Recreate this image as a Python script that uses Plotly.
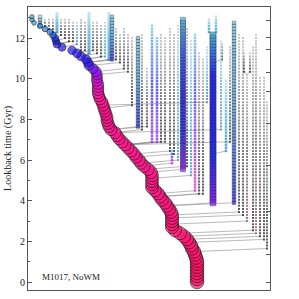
import plotly.graph_objects as go

# ---------------- data ----------------
# snapshot lookback times (Gyr)
snap_t = [0.00, 0.15, 0.30, 0.45, 0.60, 0.75, 0.90, 1.05, 1.20, 1.35,
          1.50, 1.65, 1.80, 1.95, 2.10, 2.25, 2.40, 2.55, 2.70, 2.85,
          3.00, 3.15, 3.30, 3.45, 3.60, 3.75, 3.90, 4.05, 4.20, 4.35,
          4.50, 4.65, 4.80, 4.95, 5.10, 5.25, 5.40, 5.55, 5.70, 5.85,
          6.00, 6.15, 6.30, 6.45, 6.60, 6.75, 6.90, 7.05, 7.20, 7.35,
          7.50, 7.65, 7.80, 7.95, 8.10, 8.25, 8.40, 8.55, 8.70, 8.85,
          9.00, 9.15, 9.30, 9.45, 9.60, 9.75, 9.90, 10.05, 10.20, 10.35,
          10.50, 10.65, 10.80, 10.95, 11.10, 11.25, 11.40, 11.55, 11.70, 11.85,
          12.00, 12.15, 12.30, 12.45, 12.60, 12.75, 12.90, 13.05, 13.20]

# main progenitor branch: layout position and log mass per snapshot
main_x = [197, 197, 197, 197, 197, 197, 197, 197, 196, 195,
          194, 192, 191, 189, 187, 184, 180, 175, 172, 172,
          172, 172, 172, 171, 169, 167, 165, 162, 160, 158,
          155, 152, 152, 152, 152, 152, 151, 148, 144, 141,
          139, 136, 134, 131, 128, 125, 122, 119, 117, 115,
          111, 109, 108, 107, 107, 106, 105, 104, 103, 102,
          100, 99, 98, 98, 98, 98, 97, 97, 97, 96,
          93, 89, 88, 86, 81, 77, 72, 62, 57, 56,
          55, 53, 50, 45, 40, 34, 32, 32]
main_logm = [12.00, 12.00, 11.99, 11.99, 11.98, 11.98, 11.97, 11.96, 11.95, 11.95,
             11.94, 11.93, 11.92, 11.91, 11.90, 11.89, 11.88, 11.87, 11.86, 11.85,
             11.85, 11.84, 11.83, 11.82, 11.81, 11.80, 11.79, 11.78, 11.77, 11.76,
             11.75, 11.74, 11.73, 11.72, 11.71, 11.70, 11.69, 11.68, 11.67, 11.66,
             11.65, 11.64, 11.63, 11.62, 11.61, 11.60, 11.59, 11.57, 11.56, 11.55,
             11.54, 11.53, 11.52, 11.51, 11.50, 11.49, 11.48, 11.47, 11.45, 11.43,
             11.40, 11.37, 11.33, 11.29, 11.24, 11.19, 11.13, 11.07, 11.00, 10.93,
             10.85, 10.75, 10.65, 10.58, 10.50, 10.42, 10.33, 10.22, 10.10, 10.00,
             9.90, 9.75, 9.60, 9.45, 9.30, 9.15, 9.05, 9.00]

# side branches: position, first / last lookback time, colour class, dot size, merges into (-1 = main)
br_x    = [40, 45, 49, 53, 57, 61, 65, 69, 73, 77,
           81, 85, 89, 93, 97, 101, 105, 109, 112, 116,
           120, 124, 128, 132, 138, 142, 147, 152, 157, 161,
           165, 170, 174, 178, 183, 187, 191, 195, 199, 203,
           213, 209, 216, 222, 226, 221, 230, 234, 239, 243,
           247, 244, 250, 253, 256, 260, 264, 267, 207, 172]
br_top  = [13.00, 12.95, 12.95, 12.90, 13.15, 12.95, 12.90, 12.85, 12.80, 12.80,
           12.95, 12.80, 13.15, 12.80, 12.70, 12.60, 12.75, 13.15, 13.05, 12.40,
           12.10, 12.50, 12.10, 12.00, 12.05, 12.10, 10.50, 12.60, 12.00, 12.20,
           12.00, 12.50, 12.20, 12.60, 12.85, 12.40, 11.90, 12.20, 11.20, 10.90,
           12.15, 12.95, 13.05, 11.70, 9.90, 11.90, 11.60, 12.80, 12.20, 12.00,
           10.25, 11.20, 11.20, 11.50, 12.20, 10.00, 10.10, 8.80, 11.50, 6.40]
br_bot  = [12.60, 12.55, 12.45, 12.35, 12.25, 12.20, 11.95, 11.85, 11.80, 11.65,
           11.45, 11.35, 11.20, 11.40, 11.20, 11.10, 11.10, 11.00, 10.90, 11.00,
           10.80, 10.50, 10.40, 8.75, 7.70, 7.45, 7.60, 6.95, 6.95, 6.85,
           6.90, 6.50, 6.25, 6.00, 5.50, 5.75, 5.25, 4.55, 4.40, 4.30,
           3.90, 12.25, 12.25, 11.00, 6.50, 7.50, 6.90, 3.90, 3.50, 3.25,
           2.95, 10.35, 10.35, 2.60, 2.45, 2.30, 2.10, 1.60, 8.90, 5.85]
br_kind = ['c', 'g', 'g', 'g', 'c', 'g', 'g', 'g', 'g', 'c',
           'g', 'g', 'c', 'g', 'g', 'g', 'c', 'c', 'b', 'g',
           'g', 'g', 'g', 'g', 'b', 'g', 'g', 'p', 'p', 'g',
           'g', 'g', 'g', 'c', 'P', 'g', 'c', 'm', 'g', 'g',
           'B', 'c', 'c', 'g', 'c', 'c', 'g', 'b', 'g', 'g',
           'r', 'g', 'g', 'g', 'r', 'g', 'g', 'g', 'c', 'm']
br_size = [3.5, 2, 2, 2, 3, 2, 2, 2, 2, 2,
           2, 2, 3, 2, 2, 2, 2, 3, 3.5, 2,
           2, 2, 2, 2, 3.5, 2, 2, 2.5, 2.5, 2,
           2, 2, 2, 2, 5, 2, 2, 2.5, 2, 2,
           6, 2.5, 2.5, 2, 2.5, 2, 2, 3.5, 2, 2,
           2, 2, 2, 2, 2, 2, 2, 2, 2, 2.5]
br_into = [-1, -1, -1, -1, -1, -1, -1, -1, -1, -1,
           -1, -1, -1, -1, -1, -1, -1, -1, -1, -1,
           -1, -1, -1, -1, -1, -1, -1, -1, -1, -1,
           -1, -1, -1, -1, -1, -1, -1, -1, -1, -1,
           -1, 40, 40, 40, 40, -1, -1, -1, -1, -1,
           -1, 50, 50, -1, -1, -1, -1, -1, -1, -1]

# redshift tick marks (right axis), as lookback times
z_tick_t = [0.0, 1.35, 3.45, 5.75, 7.8, 9.35, 10.3, 11.45, 12.05, 12.85]

label_text = "M1017, NoWM"
y_title = "Lookback time (Gyr)"

# ---------------- styling ----------------
kind_colors = {
    'g': ['#b4b4b4', '#5a5a5a', '#101010'],
    'c': ['#b0d4e4', '#30a8d8', '#1a80c4'],
    'b': ['#60c0e0', '#2a90e6', '#1414f0'],
    'p': ['#60c0e0', '#1818f0', '#8010f0'],
    'P': ['#40b0e0', '#1a40f0', '#1414f0', '#1414f0', '#8010f0'],
    'm': ['#60c0e0', '#3030f0', '#8010f0', '#e010d0'],
    'B': ['#30a8dc', '#1414f0', '#1414f0', '#1414f0', '#7a10f0'],
    'r': ['#b4b4b4', '#505050', '#a03a50'],
}


def hex2rgb(h):
    h = h.lstrip('#')
    return [int(h[i:i + 2], 16) for i in (0, 2, 4)]


def grad(stops, f):
    n = len(stops) - 1
    pos = f * n
    i = min(int(pos), n - 1)
    w = pos - i
    a, b = hex2rgb(stops[i]), hex2rgb(stops[i + 1])
    c = [round(a[k] + (b[k] - a[k]) * w) for k in range(3)]
    return 'rgb(%d,%d,%d)' % tuple(c)


def snap_index(t):
    best = 0
    for i, s in enumerate(snap_t):
        if abs(s - t) < abs(snap_t[best] - t):
            best = i
    return best


dot_x, dot_y, dot_c, dot_s, dot_lw = [], [], [], [], []
link_x, link_y = [], []
for b in range(len(br_x)):
    i0 = snap_index(br_bot[b])
    i1 = snap_index(br_top[b])
    stops = kind_colors[br_kind[b]]
    n = max(i1 - i0, 1)
    for i in range(i1, i0 - 1, -1):
        f = (i1 - i) / n
        dot_x.append(br_x[b])
        dot_y.append(snap_t[i])
        dot_c.append(grad(stops, f))
        dot_s.append(br_size[b])
        dot_lw.append(0.5 if br_size[b] >= 3.5 else 0)
    j = max(i0 - 1, 0)
    tx = main_x[j] if br_into[b] < 0 else br_x[br_into[b]]
    link_x += [br_x[b], tx, None]
    link_y += [snap_t[i0], snap_t[j], None]

main_size = [4.2 + 3.1 * (m - 9.0) for m in main_logm]
main_t = snap_t[:len(main_x)]

main_scale = [
    [0.00, '#38b4e0'], [0.20, '#1e78e8'], [0.33, '#1414f0'], [0.55, '#2a12f5'],
    [0.62, '#7a10f8'], [0.67, '#b010f0'], [0.72, '#e810d8'], [0.77, '#ff10b0'],
    [0.80, '#ff1090'], [0.90, '#ff1488'], [1.00, '#ff1464'],
]

fig = go.Figure()
fig.add_trace(go.Scatter(x=link_x, y=link_y, mode='lines',
                         line=dict(color='#8c8c8c', width=0.6),
                         hoverinfo='skip', showlegend=False))
fig.add_trace(go.Scatter(x=dot_x, y=dot_y, mode='markers',
                         marker=dict(size=dot_s, color=dot_c, symbol='square',
                                     line=dict(color='#202020', width=dot_lw)),
                         hoverinfo='skip', showlegend=False))
fig.add_trace(go.Scatter(x=main_x, y=main_t, mode='markers',
                         marker=dict(size=main_size, color=main_logm,
                                     colorscale=main_scale, cmin=9.0, cmax=12.0,
                                     line=dict(color='#101010', width=0.9)),
                         hoverinfo='skip', showlegend=False))
fig.add_trace(go.Scatter(x=[None], y=[None], yaxis='y2', showlegend=False,
                         hoverinfo='skip'))

yr = [-0.39, 13.53]
font_serif = "Liberation Serif, DejaVu Serif, serif"
fig.update_layout(
    width=299, height=299,
    margin=dict(l=28, r=29, t=7, b=9, autoexpand=False),
    paper_bgcolor='white', plot_bgcolor='white',
    font=dict(family=font_serif, size=10, color='#222'),
    xaxis=dict(range=[28, 270], showgrid=False, zeroline=False,
               showticklabels=False, ticks='', showline=True, automargin=False,
               linecolor='#555', linewidth=1, mirror=True),
    yaxis=dict(range=yr, showgrid=False, zeroline=False, automargin=False,
               tickvals=[0, 2, 4, 6, 8, 10, 12], ticks='inside', ticklen=4,
               tickcolor='#555', tickwidth=1,
               minor=dict(tickvals=[1, 3, 5, 7, 9, 11, 13], ticks='inside',
                          ticklen=2, tickcolor='#555'),
               showline=True, linecolor='#555', linewidth=1, mirror=True,
               tickfont=dict(size=10, family=font_serif)),
    yaxis2=dict(range=yr, overlaying='y', side='right', showgrid=False,
                automargin=False,
                zeroline=False, tickvals=z_tick_t, ticks='inside', ticklen=4,
                tickcolor='#555', showticklabels=False, showline=False),
    annotations=[
        dict(x=40, y=0.25, xref='x', yref='y', text=label_text,
             showarrow=False, xanchor='left', yanchor='middle',
             font=dict(size=9, family=font_serif, color='#222')),
        dict(x=-0.085, y=0.5, xref='paper', yref='paper', text=y_title,
             showarrow=False, textangle=-90, xanchor='center', yanchor='middle',
             font=dict(size=10, family=font_serif, color='#222')),
    ],
)

fig.write_html("out.html", config={'displayModeBar': False},
               post_script="document.body.style.margin='0';document.body.style.padding='0';")
